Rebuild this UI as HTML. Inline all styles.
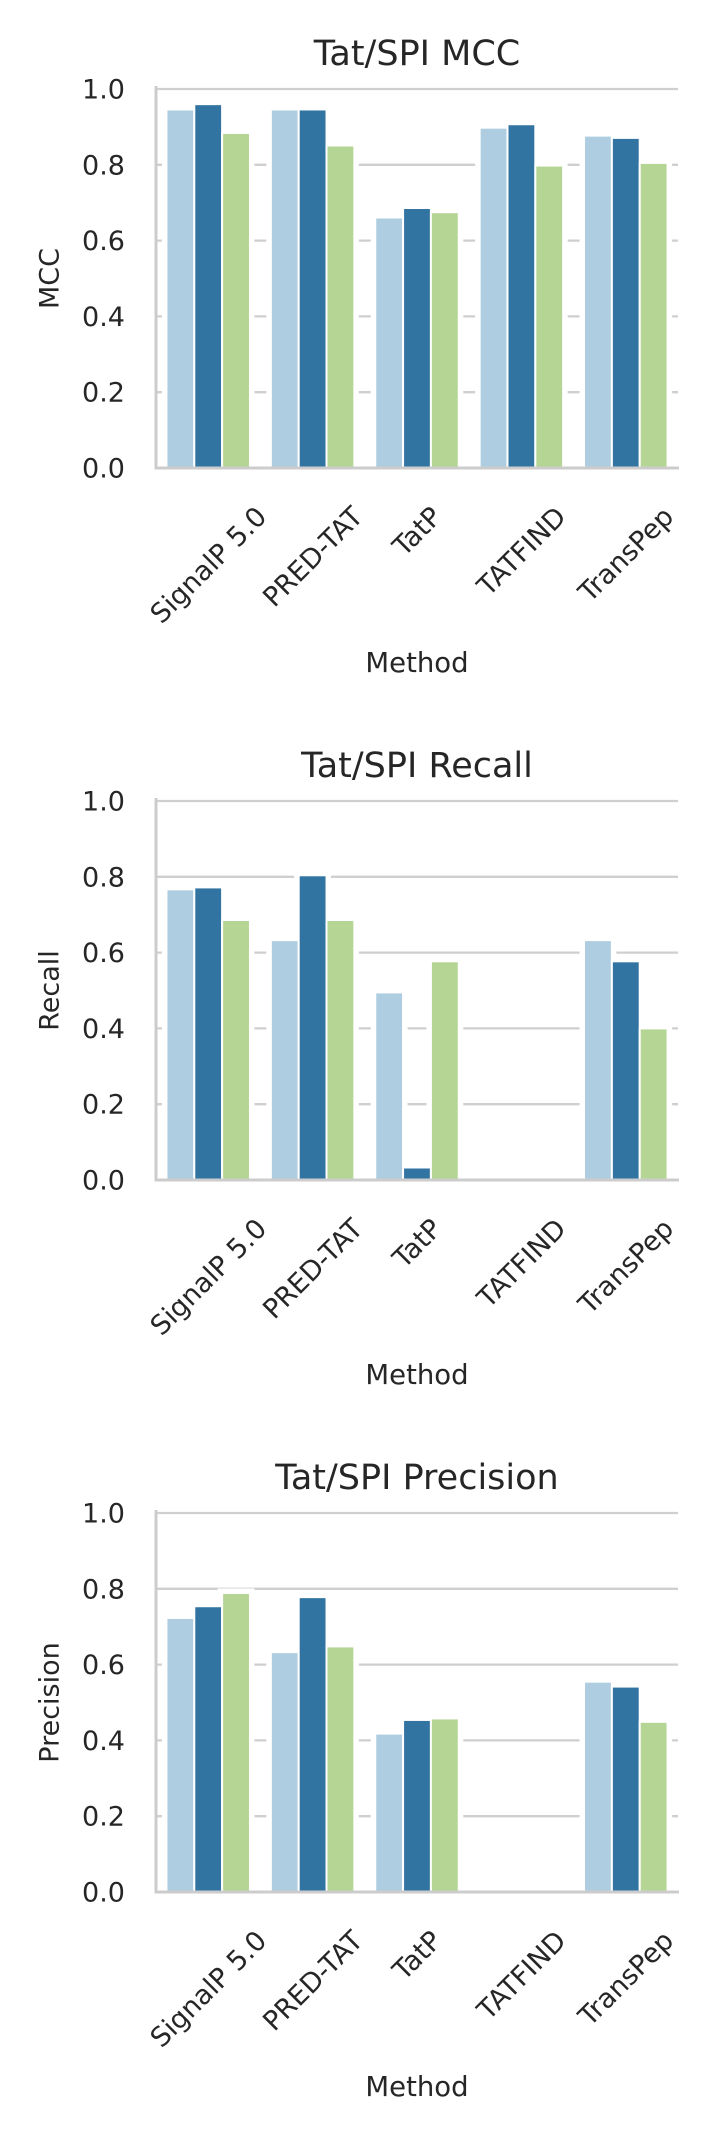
<!DOCTYPE html>
<html><head><meta charset="utf-8"><style>
html,body{margin:0;padding:0;background:#fff;}
svg{display:block;font-family:"DejaVu Sans","Liberation Sans",sans-serif;}
</style></head><body>
<svg id="fig" width="712" height="2136" viewBox="0 0 712 2136"></svg>
<script>
const categories = ["SignalP 5.0","PRED-TAT","TatP","TATFIND","TransPep"];
const titles = ["Tat/SPI MCC","Tat/SPI Recall","Tat/SPI Precision"];
const ylabels = ["MCC","Recall","Precision"];
const yTicks = [0,0.2,0.4,0.6,0.8,1.0];
const yTickLabels = ["0.0","0.2","0.4","0.6","0.8","1.0"];
const mccS1 = [0.946,0.946,0.661,0.898,0.877];
const mccS2 = [0.960,0.946,0.686,0.907,0.871];
const mccS3 = [0.884,0.851,0.675,0.798,0.805];
const recS1 = [0.767,0.633,0.495,0,0.633];
const recS2 = [0.772,0.804,0.033,0,0.577];
const recS3 = [0.686,0.686,0.577,0,0.400];
const preS1 = [0.723,0.633,0.418,0,0.555];
const preS2 = [0.754,0.778,0.454,0,0.542];
const preS3 = [0.789,0.648,0.458,0,0.449];
const panels = [[mccS1,mccS2,mccS3],[recS1,recS2,recS3],[preS1,preS2,preS3]];
const colors = ["#afcde0","#3274a1","#b5d595"];
const NS="http://www.w3.org/2000/svg";
const svg=document.getElementById('fig');
function mk(tag,attrs,parent){const e=document.createElementNS(NS,tag);for(const k in attrs)e.setAttribute(k,attrs[k]);parent.appendChild(e);return e;}
const L=156,R=678,T=89,B=468;
panels.forEach((series,p)=>{
  const g=mk('g',{transform:'translate(0,'+(p*712)+')'},svg);
  
  
  const yS=v=>B-(B-T)*v;
  const band=(R-L)/categories.length;
  const xC=i=>L+band*(i+0.5);
  yTicks.forEach((t,i)=>{
    const ln=mk('line',{x1:L,x2:R,y1:yS(t),y2:yS(t),stroke:'#cfcfcf','stroke-width':2.3},g);
    
    
    const tx=mk('text',{x:125,y:yS(t)+9.5,'text-anchor':'end','font-size':27,fill:'#262626'},g);
    tx.textContent=yTickLabels[i];
    
    
  });
  const gw=band*0.8, bw=gw/3;
  // white halo under bars
  series.forEach((vals,s)=>{
    vals.forEach((v,i)=>{
      if(v<=0) return;
      const x=xC(i)-gw/2+bw*s;
      const r=mk('rect',{x:x,y:yS(v),width:bw,height:B-yS(v),fill:'#ffffff',stroke:'#ffffff','stroke-width':9},g);
      
      
    });
  });
  series.forEach((vals,s)=>{
    vals.forEach((v,i)=>{
      const x=xC(i)-gw/2+bw*s;
      const r=mk('rect',{x:x,y:yS(v),width:bw,height:B-yS(v),fill:colors[s],stroke:'#ffffff','stroke-width':2},g);
      
      
    });
  });
  const sl=mk('line',{x1:L,x2:L,y1:T-3,y2:B+1,stroke:'#cccccc','stroke-width':3},g);
  
  
  const sb=mk('line',{x1:L-1.5,x2:R+1,y1:B,y2:B,stroke:'#cccccc','stroke-width':3},g);
  
  
  categories.forEach((c,i)=>{
    const t=mk('text',{'text-anchor':'middle','font-size':27,fill:'#262626'},g);
    t.textContent=c;
    
    
    const w=t.getComputedTextLength(), h=27;
    const cy=502+(w+h)/(2*Math.SQRT2);
    t.setAttribute('x',xC(i));t.setAttribute('y',cy+9.5);
    t.setAttribute('transform','rotate(-45 '+xC(i)+' '+cy+')');
  });
  const ti=mk('text',{x:(L+R)/2,y:65,'text-anchor':'middle','font-size':35,fill:'#262626'},g);
  ti.textContent=titles[p];
  
  
  const xl=mk('text',{x:(L+R)/2,y:672,'text-anchor':'middle','font-size':27.5,fill:'#262626'},g);
  xl.textContent='Method';
  
  
  const cyl=(T+B)/2;
  const yl=mk('text',{x:49,y:cyl+9.5,'text-anchor':'middle','font-size':27,fill:'#262626',transform:'rotate(-90 49 '+cyl+')'},g);
  yl.textContent=ylabels[p];
  
  
});
</script>
</body></html>
